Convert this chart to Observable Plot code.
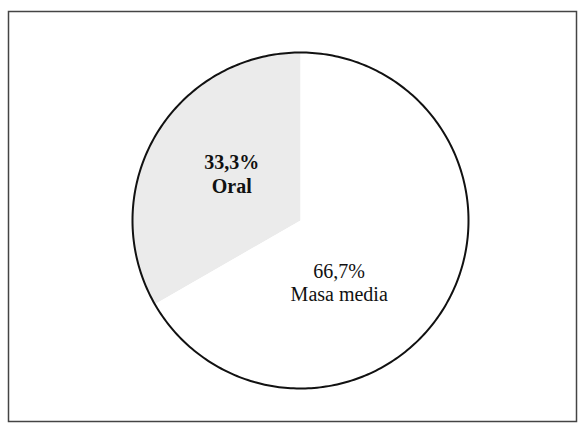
<!DOCTYPE html>
<html>
<head>
<meta charset="utf-8">
<script src="https://cdn.jsdelivr.net/npm/d3@7"></script>
<script src="https://cdn.jsdelivr.net/npm/@observablehq/plot@0.6"></script>
<style>
  html, body { margin: 0; padding: 0; background: #fff; }
</style>
</head>
<body>
<div id="chart"></div>
<script>
const categories = ["Oral", "Masa media"];
const values = [33.3, 66.7];
const labels = ["33,3%", "66,7%"];

const data = categories.map((c, i) => ({category: c, value: values[i], label: labels[i]}));
const total = d3.sum(values);
const start = -2 * Math.PI * values[0] / total;
const arcs = d3.pie().sort(null).value(d => d.value).startAngle(start).endAngle(start + 2 * Math.PI)(data);

// wedge polygons in unit coordinates (y up), angles clockwise from 12 o'clock
const wedge = a => {
  const n = Math.max(2, Math.ceil((a.endAngle - a.startAngle) / (Math.PI / 180)));
  const pts = [{category: a.data.category, x: 0, y: 0}];
  for (let k = 0; k <= n; k++) {
    const t = a.startAngle + (a.endAngle - a.startAngle) * k / n;
    pts.push({category: a.data.category, x: Math.sin(t), y: Math.cos(t)});
  }
  pts.push({category: a.data.category, x: 0, y: 0});
  return pts;
};
const wedges = arcs.flatMap(wedge);
const rim = arcs.flatMap(a => wedge(a).slice(1, -1));
const labelPts = arcs.map(a => {
  const m = (a.startAngle + a.endAngle) / 2;
  return {category: a.data.category, label: a.data.label, name: a.data.category, x: 0.5 * Math.sin(m), y: 0.5 * Math.cos(m)};
});

const fillOf = {"Oral": "#ebebeb", "Masa media": "#ffffff"};

const chart = Plot.plot({
  width: 580,
  height: 424,
  marginLeft: 8,
  marginRight: 4,
  marginTop: 11,
  marginBottom: 3,
  x: {domain: [-1, 1], range: [132, 468], axis: null},
  y: {domain: [-1, 1], range: [388, 52], axis: null},
  style: {fontFamily: "'Liberation Serif', 'Times New Roman', serif", background: "#fff"},
  marks: [
    Plot.frame({stroke: "#444", strokeWidth: 1.5}),
    ...categories.map(c => Plot.line(wedges.filter(d => d.category === c), {x: "x", y: "y", fill: fillOf[c], stroke: "none"})),
    Plot.line(rim, {x: "x", y: "y", stroke: "#111", strokeWidth: 2}),
    Plot.text(labelPts.filter(d => d.category === "Oral"), {
      x: "x", y: "y", text: d => d.label + "\n" + d.name,
      fontSize: 20, fontWeight: "bold", fill: "#111", lineHeight: 1.2, dx: 4, dy: -5
    }),
    Plot.text(labelPts.filter(d => d.category === "Masa media"), {
      x: "x", y: "y", text: d => d.label + "\n" + d.name,
      fontSize: 20, fill: "#111", lineHeight: 1.15, dx: -34, dy: 20
    })
  ]
});
document.getElementById("chart").appendChild(chart);
</script>
</body>
</html>
